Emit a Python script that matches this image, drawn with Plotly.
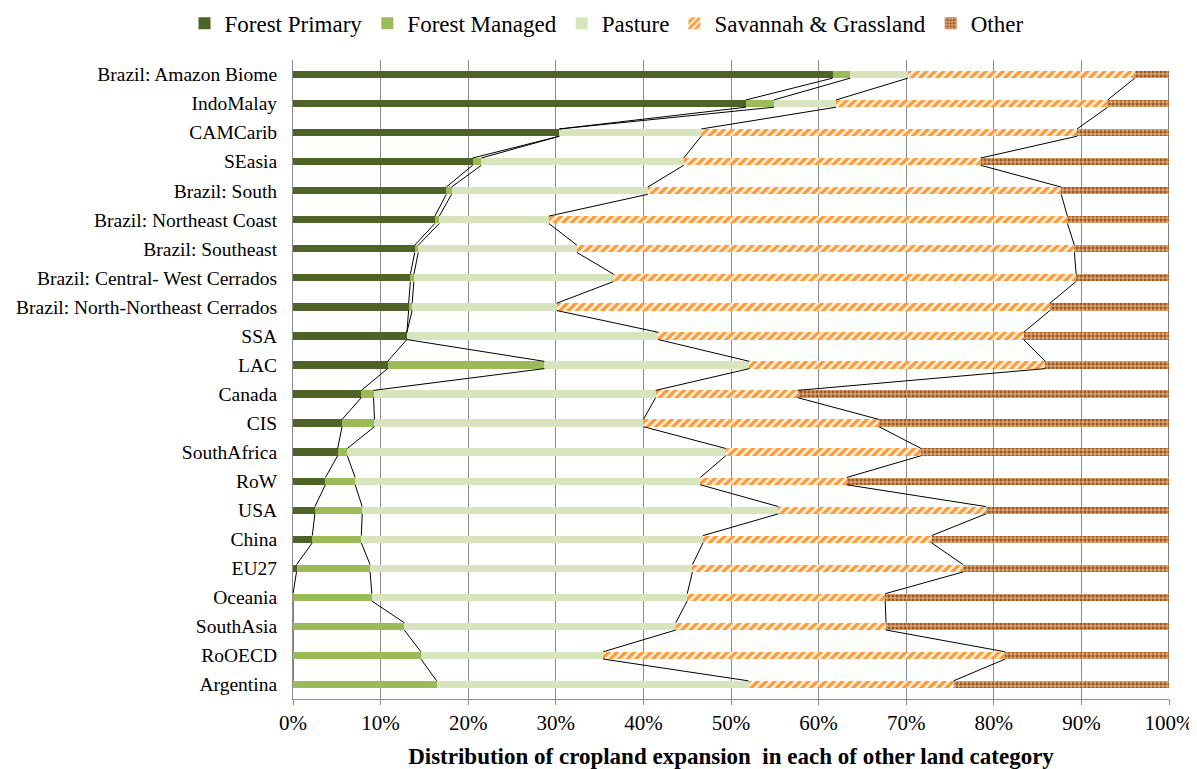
import numpy as np
import plotly.graph_objects as go

regions = ['Brazil: Amazon Biome', 'IndoMalay', 'CAMCarib', 'SEasia', 'Brazil: South',
           'Brazil: Northeast Coast', 'Brazil: Southeast', 'Brazil: Central- West Cerrados',
           'Brazil: North-Northeast Cerrados', 'SSA', 'LAC', 'Canada', 'CIS', 'SouthAfrica',
           'RoW', 'USA', 'China', 'EU27', 'Oceania', 'SouthAsia', 'RoOECD', 'Argentina']

forest_primary = [61.6, 51.7, 30.4, 20.5, 17.5, 16.2, 13.9, 13.4, 13.2, 13.0, 10.8,
                  7.8, 5.6, 5.1, 3.7, 2.5, 2.2, 0.4, 0, 0, 0, 0]
forest_managed = [2.0, 3.2, 0, 1.0, 0.6, 0.5, 0.4, 0.4, 0.4, 0, 17.9,
                  1.4, 3.7, 1.1, 3.4, 5.4, 5.6, 8.4, 9.0, 12.7, 14.6, 16.4]
pasture = [6.6, 7.1, 16.2, 23.1, 22.4, 12.5, 18.1, 22.8, 16.5, 28.7, 23.4,
           32.2, 30.7, 43.2, 39.4, 47.5, 39.0, 36.8, 36.0, 31.0, 20.8, 35.6]
savannah = [25.9, 31.0, 42.9, 33.9, 47.2, 59.2, 56.8, 52.8, 56.3, 41.7, 33.8,
            16.2, 26.9, 22.3, 16.7, 23.7, 26.1, 30.9, 22.6, 24.0, 45.9, 23.4]
other = [3.9, 7.0, 10.5, 21.5, 12.3, 11.6, 10.8, 10.6, 13.6, 16.6, 14.1,
         42.4, 33.1, 28.3, 36.8, 20.9, 27.1, 23.5, 32.4, 32.3, 18.7, 24.6]

series_names = ['Forest Primary', 'Forest Managed', 'Pasture', 'Savannah & Grassland', 'Other']
series_vals = [forest_primary, forest_managed, pasture, savannah, other]

x_ticks = list(range(0, 101, 10))
x_ticktext = [f'{t}%' for t in x_ticks]

n = len(regions)
ypos = list(range(n - 1, -1, -1))  # first region on top
bw = 0.25

styles = [
    dict(color='#4F6228'),
    dict(color='#9BBB59'),
    dict(color='#D7E4BD'),
    dict(color='#FFF2E4', pattern=dict(shape='/', fgcolor='#FF9933', bgcolor='#FFF2E4',
                                       fgopacity=1, size=6, solidity=0.55)),
    dict(color='#A5561C', pattern=dict(shape='+', fgcolor='#F2D4B2', bgcolor='#A5561C',
                                       fgopacity=1, size=4, solidity=0.35)),
]

fig = go.Figure()
for name, vals, st in zip(series_names, series_vals, styles):
    fig.add_trace(go.Bar(
        y=ypos, x=vals, name=name, orientation='h', width=bw,
        marker=dict(line=dict(width=0), **st),
    ))

# series lines between adjacent bars (Excel style)
cum = np.cumsum(np.array(series_vals), axis=0)
for k in range(cum.shape[0]):
    xs, ys = [], []
    for i in range(n - 1):
        xs += [cum[k][i], cum[k][i + 1], None]
        ys += [ypos[i] - bw / 2, ypos[i + 1] + bw / 2, None]
    fig.add_trace(go.Scatter(x=xs, y=ys, mode='lines', showlegend=False,
                             line=dict(color='black', width=1), hoverinfo='skip'))

fig.update_layout(
    barmode='stack',
    width=1197, height=769,
    plot_bgcolor='white', paper_bgcolor='white',
    margin=dict(l=285, r=36, t=51.5, b=77.5),
    font=dict(family='Liberation Serif', color='black'),
    legend=dict(orientation='h', xref='container', yref='container',
                x=0.5, xanchor='center', y=0.98, yanchor='middle',
                font=dict(size=23), traceorder='normal', itemwidth=30),
)
fig.update_xaxes(
    range=[0, 100], tickmode='array', tickvals=x_ticks, ticktext=x_ticktext,
    showgrid=True, gridcolor='#8C8C8C', gridwidth=1,
    showline=True, linecolor='#8C8C8C', ticks='outside', tickcolor='#8C8C8C', ticklen=5,
    tickfont=dict(size=21), zeroline=False, automargin=False,
    title=dict(text='<b>Distribution of cropland expansion  in each of other land category</b>',
               font=dict(size=23), standoff=13),
)
fig.update_yaxes(
    range=[-0.5, n - 0.5], tickmode='array', tickvals=ypos, ticktext=regions,
    showgrid=False, showline=True, linecolor='#8C8C8C', ticks='',
    ticklabelstandoff=11, automargin=False,
    tickfont=dict(size=19.5), zeroline=False,
)

fig.write_html("out.html")
